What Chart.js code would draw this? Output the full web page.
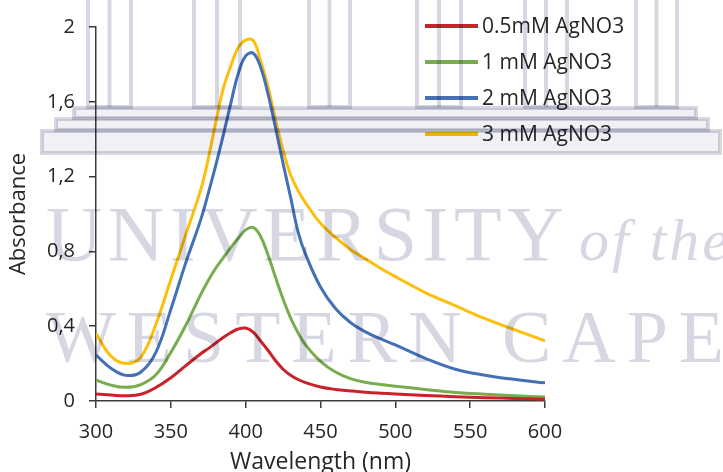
<!DOCTYPE html>
<html>
<head>
<meta charset="utf-8">
<title>Absorbance spectra – AgNO3</title>
<script src="https://cdn.jsdelivr.net/npm/chart.js@4.4.1/dist/chart.umd.min.js"></script>
<style>
  html, body { margin: 0; padding: 0; background: #fff; }
  #wrap { width: 723px; height: 472px; }
</style>
</head>
<body>
<div id="wrap"><canvas id="spectra" width="723" height="472"></canvas></div>
<script>
(function () {
  'use strict';

  // ── Data ─────────────────────────────────────────────────────
  var WAVELENGTHS = [300, 310, 320, 330, 340, 350, 360, 370, 375, 380, 385, 390, 395, 400, 405,
                     410, 415, 420, 425, 430, 435, 440, 450, 460, 470, 480, 490, 500, 520, 540,
                     560, 580, 600];
  var ABS_05MM = [0.037, 0.032, 0.028, 0.036, 0.072, 0.124, 0.189, 0.253, 0.28, 0.31, 0.34, 0.365, 0.385, 0.39, 0.368,
                  0.32, 0.27, 0.215, 0.17, 0.138, 0.115, 0.098, 0.075, 0.062, 0.054, 0.047, 0.042, 0.038, 0.030, 0.023,
                  0.018, 0.014, 0.010];
  var ABS_1MM  = [0.112, 0.085, 0.073, 0.088, 0.14, 0.26, 0.405, 0.57, 0.645, 0.71, 0.765, 0.82, 0.87, 0.915, 0.928,
                  0.88, 0.78, 0.66, 0.545, 0.445, 0.365, 0.30, 0.212, 0.155, 0.12, 0.1, 0.088, 0.079, 0.062, 0.046,
                  0.036, 0.028, 0.021];
  var ABS_2MM  = [0.246, 0.175, 0.137, 0.155, 0.26, 0.49, 0.74, 0.97, 1.11, 1.26, 1.42, 1.59, 1.75, 1.845, 1.86,
                  1.785, 1.64, 1.46, 1.27, 1.09, 0.905, 0.785, 0.61, 0.495, 0.42, 0.37, 0.333, 0.30, 0.228, 0.17,
                  0.138, 0.115, 0.097];
  var ABS_3MM  = [0.36, 0.24, 0.20, 0.235, 0.41, 0.65, 0.89, 1.13, 1.295, 1.49, 1.67, 1.79, 1.89, 1.93, 1.928,
                  1.82, 1.68, 1.50, 1.34, 1.21, 1.125, 1.06, 0.95, 0.875, 0.81, 0.76, 0.71, 0.665, 0.58, 0.51,
                  0.44, 0.38, 0.322];

  var SERIES_LABELS = ['0.5mM AgNO3', '1 mM AgNO3', '2 mM AgNO3', '3 mM AgNO3'];
  var SERIES_DATA   = [ABS_05MM, ABS_1MM, ABS_2MM, ABS_3MM];
  var SERIES_COLORS = ['#c8232b', '#78ad4f', '#4470b6', '#fdbf0b'];

  var X_MIN = 300, X_MAX = 600, X_STEP = 50;
  var Y_MIN = 0,   Y_MAX = 2,   Y_STEP = 0.4;

  var TEXT = '#262626';
  var AXIS = '#3a3a3a';
  var FONT = '"Open Sans", "DejaVu Sans", sans-serif';

  function points(values) {
    return WAVELENGTHS.map(function (w, i) { return { x: w, y: values[i] }; });
  }

  // ── Legend: short lines + labels, top right inside plot ──────
  var lineLegend = {
    id: 'lineLegend',
    afterDatasetsDraw: function (chart) {
      var ctx = chart.ctx, area = chart.chartArea;
      var x0 = area.right - 120, y0 = area.top - 1, rowH = 36;
      ctx.save();
      ctx.font = '21px ' + FONT;
      ctx.textBaseline = 'middle';
      ctx.fillStyle = TEXT;
      chart.data.datasets.forEach(function (ds, i) {
        var y = y0 + i * rowH;
        ctx.strokeStyle = ds.borderColor;
        ctx.lineWidth = 4;
        ctx.beginPath(); ctx.moveTo(x0, y); ctx.lineTo(x0 + 53, y); ctx.stroke();
        ctx.fillText(ds.label, x0 + 57, y + 1);
      });
      ctx.restore();
    }
  };

  // ── Thesis watermark (building + university name), multiplied on top
  var watermark = {
    id: 'watermark',
    afterDraw: function (chart) {
      var ctx = chart.ctx;
      ctx.save();
      ctx.globalCompositeOperation = 'multiply';
      ctx.lineWidth = 4;
      ctx.strokeStyle = 'rgb(214,215,225)';
      [[88, 131], [194, 240], [309, 350], [417, 461], [525, 567], [636, 677]].forEach(function (p) {
        ctx.strokeRect(p[0], -5, p[1] - p[0], 112);
        ctx.beginPath(); ctx.moveTo((p[0] + p[1]) / 2, -5); ctx.lineTo((p[0] + p[1]) / 2, 107); ctx.stroke();
      });
      ctx.fillStyle = 'rgb(240,240,245)';
      [[74, 108, 622, 10], [56, 119, 652, 11], [42, 131, 678, 22]].forEach(function (b) {
        ctx.fillRect(b[0], b[1], b[2], b[3]);
        ctx.strokeRect(b[0], b[1], b[2], b[3]);
      });
      ctx.fillStyle = 'rgb(214,215,226)';
      ctx.font = '78px "Liberation Serif"';
      ctx.letterSpacing = '5.5px';
      ctx.fillText('UNIVERSITY', 46, 260);
      ctx.font = 'italic 60px "Liberation Serif"';
      ctx.letterSpacing = '3px';
      ctx.fillText('of the', 579, 260);
      ctx.font = '74px "Liberation Serif"';
      ctx.letterSpacing = '11px';
      ctx.fillText('WESTERN CAPE', 46, 362);
      ctx.restore();
    }
  };

  var ctx = document.getElementById('spectra').getContext('2d');
  new Chart(ctx, {
    type: 'line',
    data: {
      datasets: SERIES_LABELS.map(function (label, i) {
        return {
          label: label,
          data: points(SERIES_DATA[i]),
          borderColor: SERIES_COLORS[i],
          backgroundColor: SERIES_COLORS[i],
          borderWidth: 3,
          pointRadius: 0,
          tension: 0.4,
          fill: false
        };
      })
    },
    options: {
      responsive: false,
      animation: false,
      layout: { padding: { left: 0, top: 27, right: 178, bottom: 0 } },
      plugins: { legend: { display: false }, tooltip: { enabled: false } },
      scales: {
        x: {
          type: 'linear',
          min: X_MIN, max: X_MAX,
          afterFit: function (s) { s.height = 71; },
          ticks: { stepSize: X_STEP, padding: 12, color: TEXT, font: { family: FONT, size: 20 } },
          grid: { drawOnChartArea: false, drawTicks: true, tickLength: 7, color: AXIS, lineWidth: 1.5 },
          border: { display: true, color: AXIS, width: 1.5 },
          title: { display: true, text: 'Wavelength (nm)', color: TEXT, padding: { bottom: -4 },
                   font: { family: FONT, size: 23 } }
        },
        y: {
          min: Y_MIN, max: Y_MAX,
          afterFit: function (s) { s.width = 96; },
          ticks: {
            stepSize: Y_STEP, padding: 14, color: TEXT, font: { family: FONT, size: 20 },
            callback: function (v) { return String(Math.round(v * 10) / 10).replace('.', ','); }
          },
          grid: { drawOnChartArea: false, drawTicks: true, tickLength: 7, color: AXIS, lineWidth: 1.5 },
          border: { display: true, color: AXIS, width: 1.5 },
          title: { display: true, text: 'Absorbance', color: TEXT, padding: { top: 6 },
                   font: { family: FONT, size: 22 } }
        }
      }
    },
    plugins: [lineLegend, watermark]
  });

})();
</script>
</body>
</html>
